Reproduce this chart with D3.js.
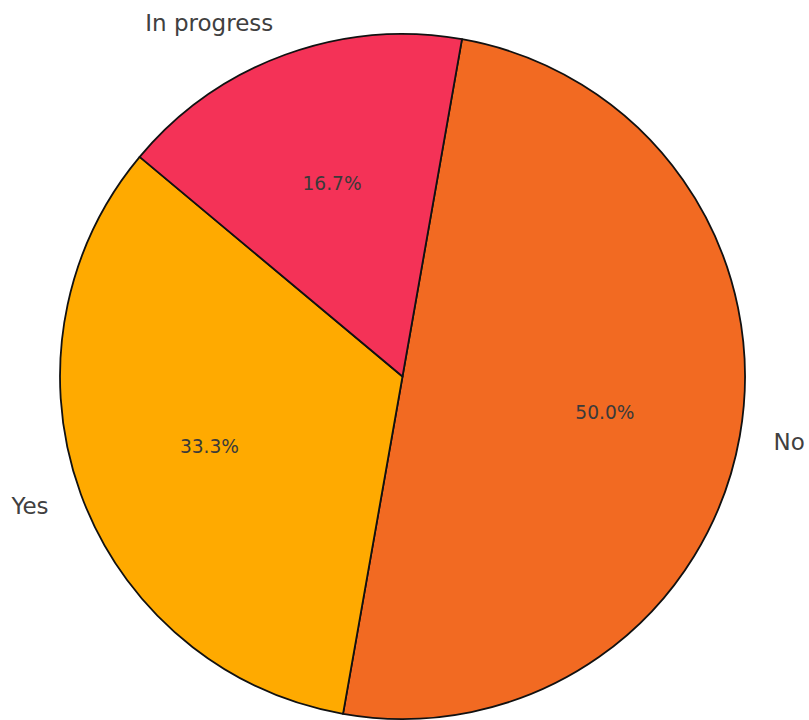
<!DOCTYPE html>
<html>
<head>
<meta charset="utf-8">
<script src="https://cdn.jsdelivr.net/npm/d3@7"></script>
<style>
  html, body { margin: 0; padding: 0; background: #fff; }
  svg { display: block; }
  text { font-family: "DejaVu Sans", sans-serif; }
</style>
</head>
<body>
<svg id="chart" width="809" height="720"></svg>
<script>
// Share of responses per status (percent)
const categories = ["No", "Yes", "In progress"];
const values = [50.0, 33.3, 16.7];
const colors = ["#F26A22", "#FFAA00", "#F43257"];

const width = 809, height = 720;
const cx = 402.5, cy = 376.5, radius = 342.5;

const svg = d3.select("#chart");
const g = svg.append("g").attr("transform", `translate(${cx},${cy})`);

const data = categories.map((c, i) => ({ label: c, value: values[i], color: colors[i] }));

const startDeg = 10;
const pie = d3.pie()
  .sort(null)
  .value(d => d.value)
  .startAngle(startDeg * Math.PI / 180)
  .endAngle((startDeg + 360) * Math.PI / 180);

const arcs = pie(data);
const arc = d3.arc().innerRadius(0).outerRadius(radius);

g.selectAll("path.slice")
  .data(arcs)
  .join("path")
  .attr("class", "slice")
  .attr("d", arc)
  .attr("fill", d => d.data.color)
  .attr("stroke", "#111")
  .attr("stroke-width", 1.8)
  .attr("stroke-linejoin", "round");

// Percentage labels inside the slices
const pctArc = d3.arc().innerRadius(radius * 0.6).outerRadius(radius * 0.6);
g.selectAll("text.pct")
  .data(arcs)
  .join("text")
  .attr("class", "pct")
  .attr("x", d => pctArc.centroid(d)[0])
  .attr("y", d => pctArc.centroid(d)[1])
  .attr("text-anchor", "middle")
  .attr("dominant-baseline", "central")
  .attr("font-size", 18.6)
  .attr("fill", "#3a3a3a")
  .text(d => d.data.value.toFixed(1) + "%");

// Category labels outside the pie
const lblArc = d3.arc().innerRadius(radius * 1.1).outerRadius(radius * 1.1);
g.selectAll("text.lbl")
  .data(arcs)
  .join("text")
  .attr("class", "lbl")
  .attr("x", d => lblArc.centroid(d)[0])
  .attr("y", d => lblArc.centroid(d)[1])
  .attr("text-anchor", d => lblArc.centroid(d)[0] >= 0 ? "start" : "end")
  .attr("dominant-baseline", "central")
  .attr("font-size", 23)
  .attr("fill", "#404040")
  .text(d => d.data.label);
</script>
</body>
</html>
